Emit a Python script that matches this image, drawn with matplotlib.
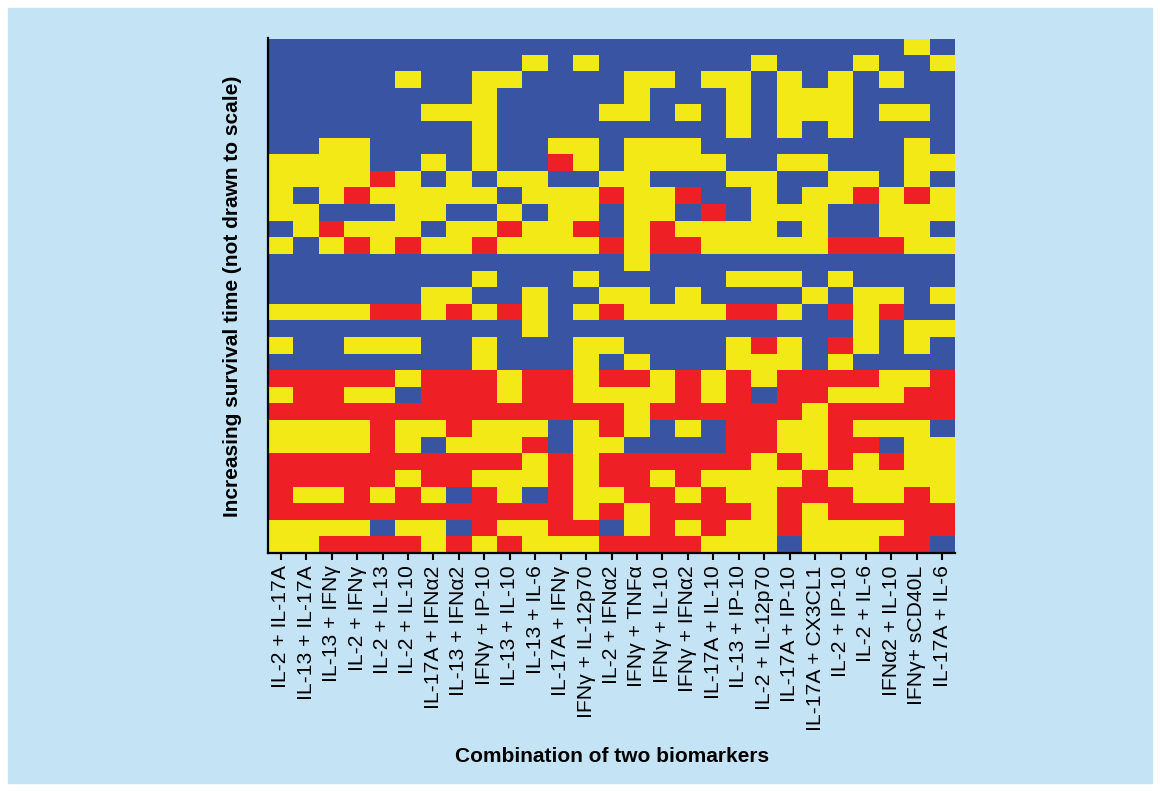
import numpy as np
import matplotlib.pyplot as plt
from matplotlib.colors import ListedColormap
from matplotlib.patches import Rectangle

plt.rcParams['font.family'] = ['Liberation Sans', 'DejaVu Sans']

# biomarker pairs along the x axis
combos = ['IL-2 + IL-17A', 'IL-13 + IL-17A', 'IL-13 + IFNγ', 'IL-2 + IFNγ',
          'IL-2 + IL-13', 'IL-2 + IL-10', 'IL-17A + IFNα2', 'IL-13 + IFNα2',
          'IFNγ + IP-10', 'IL-13 + IL-10', 'IL-13 + IL-6', 'IL-17A + IFNγ',
          'IFNγ + IL-12p70', 'IL-2 + IFNα2', 'IFNγ + TNFα', 'IFNγ + IL-10',
          'IFNγ + IFNα2', 'IL-17A + IL-10', 'IL-13 + IP-10', 'IL-2 + IL-12p70',
          'IL-17A + IP-10', 'IL-17A + CX3CL1', 'IL-2 + IP-10', 'IL-2 + IL-6',
          'IFNα2 + IL-10', 'IFNγ+ sCD40L', 'IL-17A + IL-6']

# class of each patient (row) for each pair (column): B, Y or R
# rows listed top to bottom, columns in groups of nine
rows = [
    'BBBBBBBBB BBBBBBBBB BBBBBBBYB',
    'BBBBBBBBB BYBYBBBBB BYBBBYBBY',
    'BBBBBYBBY YBBBBYYBY YBYBYBYBB',
    'BBBBBBBBY BBBBBYBBB YBYYYBBBB',
    'BBBBBBYYY BBBBYYBYB YBYYYBYYB',
    'BBBBBBBBY BBBBBBBBB YBYBYBBBB',
    'BBYYBBBBY BBYYBYYYB BBBBBBBYB',
    'YYYYBBYBY BBRYBYYYY BBYYBBBYY',
    'YYYYRYBYB YYBBYYBBB YYBBYYBYB',
    'YBYRYYYYY BYYYRYYRB BYBYYRYRY',
    'YYBBBYYBB YBYYBYYBR BYYYBBYYY',
    'BYRYYYBYY RYYRBYRYY YYBYBBYYB',
    'YBYRYRYYR YYYYRYRRY YYYYRRRYY',
    'BBBBBBBBB BBBBBYBBB BBBBBBBBB',
    'BBBBBBBBY BBBYBBBBB YYYBYBBBB',
    'BBBBBBYYB BYBBYYBYB BBBYBYYBY',
    'YYYYRRYRY RYBYRYYYY RRYBRYRBB',
    'BBBBBBBBB BYBBBBBBB BBBBBYBYY',
    'YBBYYYBBY BBBYYBBBB YRYBRYBYB',
    'BBBBBBBBY BBBYBYBBB YYYBYBBBB',
    'RRRRRYRRR YRRYRRYRY RYRRRRYYR',
    'YRRYYBRRR YRRYYYYRY RBRRYYYRR',
    'RRRRRRRRR RRRRRYRRR RRRYRRRRR',
    'YYYYRYYRY YYBYRYBYB RRYYRYYYB',
    'YYYYRYBYY YRBYYBBBB RRYYRRBYY',
    'RRRRRRRRR RYRYRRRRR RYRYRYRYY',
    'RRRRRYRRY YYRYRRYRY YYYRYYYYY',
    'RYYRYRYBR YBRYYRRYR YYRRRYYRY',
    'RRRRRRRRR RRRYRYRRR RYRYRRRRR',
    'YYYYBYYBR YYRRBYRYR YYRYYYYRR',
    'YYRRRRYRY RYYYRRRRY YYBYYYRRB',
]

class_codes = 'BYR'
class_colors = ['#3A54A4', '#F2E916', '#EE2026']
panel_color = '#C4E4F5'

grid = np.array([[class_codes.index(c) for c in r.replace(' ', '')] for r in rows])

fig = plt.figure(figsize=(11.6, 7.91), dpi=100, facecolor='white')
# light blue panel behind everything
panel = Rectangle((8 / 1160, 8 / 791), 1144 / 1160, 775 / 791,
                  transform=fig.transFigure, color=panel_color, zorder=-10)
fig.add_artist(panel)

ax = fig.add_axes([268 / 1160, 1 - 553 / 791, 687 / 1160, 514.5 / 791])
ax.set_zorder(1)
ax.set_facecolor(panel_color)
ax.imshow(grid, cmap=ListedColormap(class_colors), vmin=-0.5, vmax=2.5,
          aspect='auto', interpolation='nearest')

ax.set_xticks(np.arange(len(combos)))
ax.set_xticklabels(combos, rotation=90, fontsize=15.2)
ax.set_yticks([])
ax.tick_params(axis='x', length=5, width=1.5, pad=4)
for side in ['top', 'right']:
    ax.spines[side].set_visible(False)
for side in ['left', 'bottom']:
    ax.spines[side].set_linewidth(1.6)

fig.text(612 / 1160, 1 - 757 / 791, 'Combination of two biomarkers',
         ha='center', va='center', fontsize=15, fontweight='bold')
fig.text(233 / 1160, 1 - 296 / 791, 'Increasing survival time (not drawn to scale)',
         ha='center', va='center', rotation=90, fontsize=15, fontweight='bold')

fig.savefig('out.png', dpi=100, facecolor='white')
